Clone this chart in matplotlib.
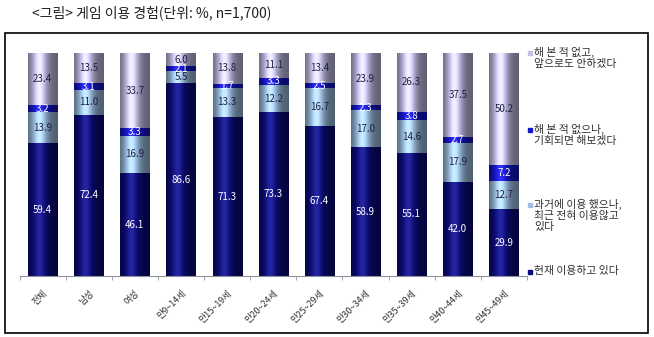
import numpy as np
import matplotlib
matplotlib.use("Agg")
import matplotlib.pyplot as plt
from matplotlib.colors import to_rgb
from matplotlib.patches import Rectangle

plt.rcParams['font.family'] = ['Noto Sans CJK KR', 'DejaVu Sans']

groups = ["전체", "남성", "여성", "만9~14세", "만15~19세", "만20~24세",
          "만25~29세", "만30~34세", "만35~39세", "만40~44세", "만45~49세"]
now_use = [59.4, 72.4, 46.1, 86.6, 71.3, 73.3, 67.4, 58.9, 55.1, 42.0, 29.9]
past_use = [13.9, 11.0, 16.9, 5.5, 13.3, 12.2, 16.7, 17.0, 14.6, 17.9, 12.7]
maybe_use = [3.2, 3.1, 3.3, 2.1, 1.7, 3.3, 2.5, 2.3, 3.8, 2.7, 7.2]
never_use = [23.4, 13.5, 33.7, 6.0, 13.8, 11.1, 13.4, 23.9, 26.3, 37.5, 50.2]

series = [now_use, past_use, maybe_use, never_use]
colors = ["#0a0a7a", "#9cbfe2", "#1414cc", "#c4c0e8"]
txt_colors = ["white", "#202040", "white", "#202040"]
legend_labels = ["현재 이용하고 있다",
                 "과거에 이용 했으나,\n최근 전혀 이용않고\n있다",
                 "해 본 적 없으나,\n기회되면 해보겠다",
                 "해 본 적 없고,\n앞으로도 안하겠다"]


def gradient(c, n=40):
    # cylinder look: dark edges, light band a bit left of centre
    base = np.array(to_rgb(c))
    t = np.linspace(0, 1, n)
    f = 0.5 + 0.62 * np.exp(-((t - 0.38) / 0.28) ** 2)
    img = np.clip(base[None, :] * f[:, None] + 0.1 * np.exp(-((t - 0.38) / 0.15) ** 2)[:, None], 0, 1)
    return img[None, :, :]


# 100% stacked: every column is scaled to its own total
totals = np.sum(series, axis=0)

fig = plt.figure(figsize=(6.54, 3.37), dpi=100)
ax = fig.add_axes([19.5 / 654, 61 / 337, 507.5 / 654, 223 / 337])

x = np.arange(len(groups))
w = 0.63
bottom = np.zeros(len(groups))
for vals, col, tc in zip(series, colors, txt_colors):
    h = np.array(vals) / totals * 100
    bars = ax.bar(x, h, w, bottom=bottom, color=col, edgecolor="none")
    grad = gradient(col)
    for b in bars:
        im = ax.imshow(grad, extent=[b.get_x(), b.get_x() + b.get_width(),
                                     b.get_y(), b.get_y() + b.get_height()],
                       aspect="auto", zorder=2)
        im.set_clip_path(b)
    for xi, v, hh, b0 in zip(x, vals, h, bottom):
        ax.text(xi, b0 + hh / 2, f"{v:.1f}", ha="center", va="center",
                fontsize=7, color=tc, zorder=3)
    bottom = bottom + h

ax.set_xlim(-0.5, len(groups) - 0.5)
ax.set_ylim(0, 100)
for s in ["top", "right", "left"]:
    ax.spines[s].set_visible(False)
ax.spines["bottom"].set_color("#9090a0")
ax.set_yticks([])
ax.set_xticks(x)
ax.set_xticklabels(groups, rotation=45, ha="right", va="top",
                   rotation_mode="anchor", fontsize=6.5, color="#303030")
ax.tick_params(axis="x", which="major", length=0, pad=9)
ax.set_xticks(np.arange(-0.5, len(groups), 1), minor=True)
ax.tick_params(axis="x", which="minor", length=3, color="#9090a0")

# legend on the right
leg_y = [272, 205, 130, 53]
for lab, col, yy in zip(legend_labels, colors, leg_y):
    fig.patches.append(Rectangle((528 / 654, 1 - (yy + 2) / 337), 4 / 654, 4 / 337,
                                 transform=fig.transFigure, color=col))
    fig.text(534 / 654, 1 - (yy - 6) / 337, lab, fontsize=7.8, va="top", ha="left",
             color="#303030", linespacing=1.1)

fig.text(32 / 654, 1 - 13 / 337, "<그림> 게임 이용 경험(단위: %, n=1,700)",
         fontsize=10, va="center", ha="left", color="#202020")

fig.patches.append(Rectangle((5 / 654, 4 / 337), 643 / 654, 300 / 337,
                             transform=fig.transFigure, fill=False,
                             edgecolor="black", linewidth=1.2))

fig.savefig("out.png", dpi=100)
